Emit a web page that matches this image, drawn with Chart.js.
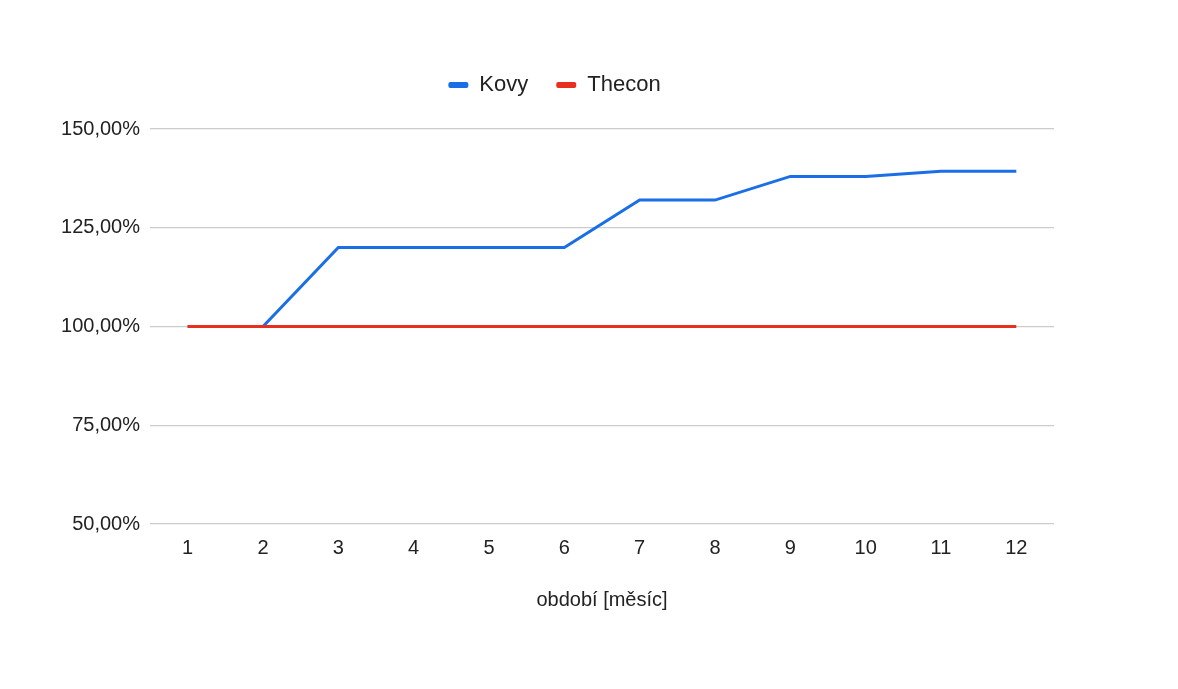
<!DOCTYPE html>
<html>
<head>
<meta charset="utf-8">
<script src="https://cdn.jsdelivr.net/npm/chart.js@4/dist/chart.umd.min.js"></script>
<style>
  html, body { margin: 0; padding: 0; background: #ffffff; }
  #wrap { position: absolute; left: 0; top: 0; width: 1178px; height: 689px; }
</style>
</head>
<body>
<div id="wrap"><canvas id="c"></canvas></div>
<script>
// ---- data ----
const categories = ['1','2','3','4','5','6','7','8','9','10','11','12'];
const kovyValues = [100, 100, 120, 120, 120, 120, 132, 132, 138, 138, 139.3, 139.3];
const theconValues = [100, 100, 100, 100, 100, 100, 100, 100, 100, 100, 100, 100];
const seriesNames = ['Kovy', 'Thecon'];
const yTickValues = [50, 75, 100, 125, 150];
const xAxisTitle = 'období [měsíc]';

const FONT = "'Liberation Sans', Arial, sans-serif";
const TEXT = '#222222';

const chart = new Chart(document.getElementById('c'), {
  type: 'line',
  data: {
    labels: categories,
    datasets: [
      { label: seriesNames[0], data: kovyValues, borderColor: '#1a6fe6', backgroundColor: '#1a6fe6',
        borderWidth: 3, pointRadius: 0, tension: 0, order: 1 },
      { label: seriesNames[1], data: theconValues, borderColor: '#e8301f', backgroundColor: '#e8301f',
        borderWidth: 3, pointRadius: 0, tension: 0, order: 0 }
    ]
  },
  options: {
    responsive: true,
    maintainAspectRatio: false,
    animation: false,
    layout: { padding: { left: 55, right: 124, top: 46, bottom: 0 } },
    plugins: {
      tooltip: { enabled: false },
      title: { display: true, text: '', weight: 500, padding: { top: 0, bottom: 0.2 }, font: { family: FONT, size: 19 } },
      legend: {
        position: 'top',
        align: 'center',
        labels: {
          font: { family: FONT, size: 22 },
          color: TEXT,
          boxWidth: 20,
          boxHeight: 6,
          padding: 28,
          useBorderRadius: true,
          borderRadius: 2,
          generateLabels: (ch) => {
            const items = Chart.defaults.plugins.legend.labels.generateLabels(ch);
            items.sort((a, b) => a.datasetIndex - b.datasetIndex);
            return items.map(it => Object.assign(it, { lineWidth: 0 }));
          }
        }
      }
    },
    scales: {
      x: {
        type: 'category',
        offset: true,
        grid: { display: false, drawTicks: false },
        border: { display: false },
        ticks: { font: { family: FONT, size: 20 }, color: TEXT, padding: 12, maxRotation: 0 },
        title: { display: true, text: xAxisTitle, font: { family: FONT, size: 20 }, color: TEXT,
                 padding: { top: 0, bottom: 77 } },
        afterFit: (s) => { s.height = 165; }
      },
      y: {
        min: 50,
        max: 150,
        afterBuildTicks: (s) => { s.ticks = yTickValues.map(v => ({ value: v })); },
        grid: { color: '#cccccc', lineWidth: 1.3, drawTicks: false },
        border: { display: false },
        ticks: {
          font: { family: FONT, size: 20 }, color: TEXT, padding: 10,
          callback: (v) => v.toFixed(2).replace('.', ',') + '%'
        },
        afterFit: (s) => { s.width = 95; }
      }
    }
  }
});
</script>
</body>
</html>
